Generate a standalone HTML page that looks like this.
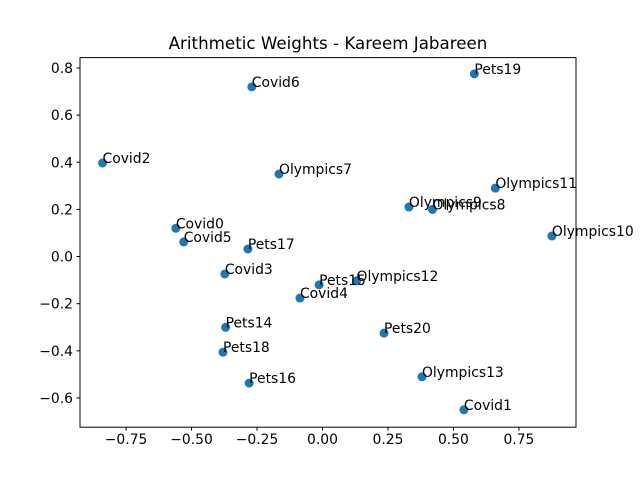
<!DOCTYPE html>
<html><head><meta charset="utf-8"><style>
body{margin:0;background:#fff;}
svg{display:block;font-family:"DejaVu Sans","Liberation Sans",sans-serif;}
</style></head><body>
<svg id="chart" width="640" height="480">
<rect width="640" height="480" fill="#fff"/>
<text x="328" y="49" font-size="16.7" text-anchor="middle">Arithmetic Weights - Kareem Jabareen</text>
<g id="axes"></g>
<g id="points"></g>
<rect x="80" y="57.6" width="496" height="369.6" fill="none" stroke="#000" stroke-width="1"/>
</svg>
<script>
const labels=["Covid0","Covid1","Covid2","Covid3","Covid4","Covid5","Covid6","Olympics7","Olympics8","Olympics9","Olympics10","Olympics11","Olympics12","Olympics13","Pets14","Pets15","Pets16","Pets17","Pets18","Pets19","Pets20"];
const xs=[-0.56,0.54,-0.84,-0.373,-0.086,-0.53,-0.27,-0.166,0.42,0.33,0.876,0.66,0.13,0.38,-0.37,-0.013,-0.28,-0.285,-0.38,0.58,0.235];
const ys=[0.12,-0.65,0.397,-0.074,-0.176,0.062,0.72,0.35,0.20,0.21,0.087,0.29,-0.103,-0.51,-0.30,-0.12,-0.537,0.032,-0.406,0.775,-0.325];
const xTicks=[-0.75,-0.5,-0.25,0,0.25,0.5,0.75];
const xTickLabels=["−0.75","−0.50","−0.25","0.00","0.25","0.50","0.75"];
const yTicks=[-0.6,-0.4,-0.2,0,0.2,0.4,0.6,0.8];
const yTickLabels=["−0.6","−0.4","−0.2","0.0","0.2","0.4","0.6","0.8"];
const X0=80,X1=576,Y0=57.6,Y1=427.2,xmin=-0.926,xmax=0.968,ymin=-0.724,ymax=0.844;
const sx=v=>X0+(v-xmin)/(xmax-xmin)*(X1-X0);
const sy=v=>Y1-(v-ymin)/(ymax-ymin)*(Y1-Y0);
const NS="http://www.w3.org/2000/svg";
const ax=document.getElementById('axes'),pt=document.getElementById('points');
function mk(t,a){const e=document.createElementNS(NS,t);for(const k in a)e.setAttribute(k,a[k]);return e;}
xTicks.forEach((v,i)=>{
 const l=mk('line',{x1:sx(v),x2:sx(v),y1:Y1,y2:Y1+3.5,stroke:'#000'});
 
 
 ax.appendChild(l);
 const t=mk('text',{x:sx(v),y:Y1+17,'font-size':'13.9','text-anchor':'middle'});
 t.textContent=xTickLabels[i];
 
 
 ax.appendChild(t);
});
yTicks.forEach((v,i)=>{
 const l=mk('line',{x1:X0-3.5,x2:X0,y1:sy(v),y2:sy(v),stroke:'#000'});
 
 
 ax.appendChild(l);
 const t=mk('text',{x:X0-7,y:sy(v)+5,'font-size':'13.9','text-anchor':'end'});
 t.textContent=yTickLabels[i];
 
 
 ax.appendChild(t);
});
labels.forEach((n,i)=>{
 const c=mk('circle',{cx:sx(xs[i]),cy:sy(ys[i]),r:4.5,fill:'#1f77b4'});
 
 
 pt.appendChild(c);
});
labels.forEach((n,i)=>{
 const t=mk('text',{x:sx(xs[i]),y:sy(ys[i]),'font-size':'13.9'});
 t.textContent=n;
 
 
 pt.appendChild(t);
});
</script>
</body></html>
